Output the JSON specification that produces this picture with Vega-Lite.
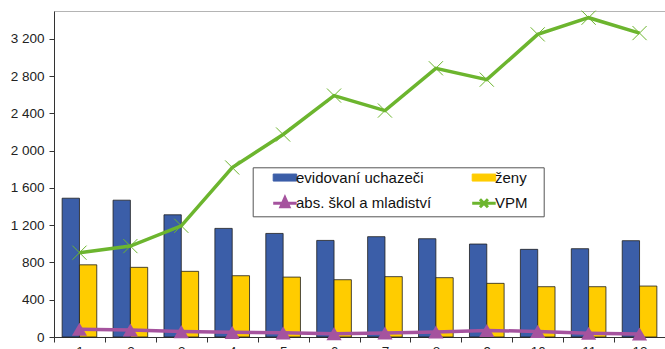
{
  "$schema": "https://vega.github.io/schema/vega-lite/v6.json",
  "autosize": "none",
  "width": 611,
  "height": 326,
  "padding": {"left": 54, "top": 11, "right": 0, "bottom": 12},
  "background": "white",
  "config": {
    "font": "Liberation Sans",
    "view": {"stroke": "#b4b4b4", "strokeWidth": 1}
  },
  "data": {"values": [
    {"m": 1, "s": "evidovaní uchazeči", "v": 1490},
    {"m": 2, "s": "evidovaní uchazeči", "v": 1469},
    {"m": 3, "s": "evidovaní uchazeči", "v": 1312},
    {"m": 4, "s": "evidovaní uchazeči", "v": 1166},
    {"m": 5, "s": "evidovaní uchazeči", "v": 1112},
    {"m": 6, "s": "evidovaní uchazeči", "v": 1037},
    {"m": 7, "s": "evidovaní uchazeči", "v": 1077},
    {"m": 8, "s": "evidovaní uchazeči", "v": 1055},
    {"m": 9, "s": "evidovaní uchazeči", "v": 998},
    {"m": 10, "s": "evidovaní uchazeči", "v": 941},
    {"m": 11, "s": "evidovaní uchazeči", "v": 948},
    {"m": 12, "s": "evidovaní uchazeči", "v": 1034},
    {"m": 1, "s": "ženy", "v": 775},
    {"m": 2, "s": "ženy", "v": 748},
    {"m": 3, "s": "ženy", "v": 705},
    {"m": 4, "s": "ženy", "v": 658},
    {"m": 5, "s": "ženy", "v": 643},
    {"m": 6, "s": "ženy", "v": 615},
    {"m": 7, "s": "ženy", "v": 648},
    {"m": 8, "s": "ženy", "v": 637},
    {"m": 9, "s": "ženy", "v": 576},
    {"m": 10, "s": "ženy", "v": 540},
    {"m": 11, "s": "ženy", "v": 540},
    {"m": 12, "s": "ženy", "v": 547},
    {"m": 1, "s": "abs. škol a mladiství", "v": 83},
    {"m": 2, "s": "abs. škol a mladiství", "v": 75},
    {"m": 3, "s": "abs. škol a mladiství", "v": 58},
    {"m": 4, "s": "abs. škol a mladiství", "v": 50},
    {"m": 5, "s": "abs. škol a mladiství", "v": 45},
    {"m": 6, "s": "abs. škol a mladiství", "v": 36},
    {"m": 7, "s": "abs. škol a mladiství", "v": 43},
    {"m": 8, "s": "abs. škol a mladiství", "v": 54},
    {"m": 9, "s": "abs. škol a mladiství", "v": 70},
    {"m": 10, "s": "abs. škol a mladiství", "v": 60},
    {"m": 11, "s": "abs. škol a mladiství", "v": 40},
    {"m": 12, "s": "abs. škol a mladiství", "v": 32},
    {"m": 1, "s": "VPM", "v": 905},
    {"m": 2, "s": "VPM", "v": 976},
    {"m": 3, "s": "VPM", "v": 1194},
    {"m": 4, "s": "VPM", "v": 1820},
    {"m": 5, "s": "VPM", "v": 2174},
    {"m": 6, "s": "VPM", "v": 2592},
    {"m": 7, "s": "VPM", "v": 2431},
    {"m": 8, "s": "VPM", "v": 2885},
    {"m": 9, "s": "VPM", "v": 2763},
    {"m": 10, "s": "VPM", "v": 3249},
    {"m": 11, "s": "VPM", "v": 3428},
    {"m": 12, "s": "VPM", "v": 3263}
  ]},
  "encoding": {
    "x": {
      "field": "m", "type": "ordinal",
      "scale": {"paddingInner": 0, "paddingOuter": 0},
      "axis": {
        "title": null, "labelAngle": 0, "tickBand": "extent",
        "domainColor": "#333", "tickColor": "#333", "tickSize": 5,
        "labelFontSize": 13.5, "labelColor": "#222", "labelPadding": 2
      }
    },
    "y": {
      "field": "v", "type": "quantitative",
      "scale": {"domain": [0, 3500], "nice": false},
      "axis": {
        "title": null, "grid": false,
        "values": [0, 400, 800, 1200, 1600, 2000, 2400, 2800, 3200],
        "labelExpr": "replace(format(datum.value, ',d'), ',', ' ')",
        "domainColor": "#333", "tickColor": "#333", "tickSize": 5,
        "labelFontSize": 13.5, "labelColor": "#222", "labelPadding": 5
      }
    },
    "color": {
      "field": "s", "type": "nominal",
      "scale": {
        "domain": ["evidovaní uchazeči", "abs. škol a mladiství", "ženy", "VPM"],
        "range": ["#3b5ea8", "#a5539e", "#ffcc00", "#6cb52e"]
      },
      "legend": {
        "title": "\u00a0", "titleOrient": "right", "titlePadding": 14, "titleFontSize": 15,
        "orient": "none", "legendX": 198.7, "legendY": 156.3,
        "columns": 2, "columnPadding": 23, "rowPadding": 6,
        "padding": 2.5, "strokeColor": "#555", "fillColor": "white",
        "symbolSize": 100, "labelFontSize": 15, "labelColor": "#111",
        "labelOffset": 25.8, "symbolOpacity": 1,
        "encode": {
          "symbols": {
            "update": {
              "shape": {"signal": "datum.value === 'abs. škol a mladiství' ? 'M2.1,0H6.8M4.45,-1.1L5.25,0.7L3.65,0.7Z' : datum.value === 'VPM' ? 'M2.1,0H6.8M3.65,-0.8L5.25,0.8M3.65,0.8L5.25,-0.8' : 'M2.1,-0.7H6.8V0.7H2.1Z'"},
              "stroke": {"signal": "datum.value === 'abs. škol a mladiství' ? '#a5539e' : datum.value === 'VPM' ? '#6cb52e' : '#222'"},
              "strokeWidth": {"signal": "datum.value === 'abs. škol a mladiství' || datum.value === 'VPM' ? 3 : 1"},
              "fill": {"signal": "datum.value === 'VPM' ? 'transparent' : scale('color', datum.value)"}
            }
          }
        }
      }
    }
  },
  "layer": [
    {
      "transform": [{"filter": "datum.s === 'evidovaní uchazeči' || datum.s === 'ženy'"}],
      "mark": {"type": "bar", "stroke": "#1e1e1e", "strokeWidth": 0.8},
      "encoding": {
        "xOffset": {"field": "s", "type": "nominal",
          "scale": {"domain": ["evidovaní uchazeči", "ženy"], "paddingInner": 0, "paddingOuter": 0.47}}
      }
    },
    {
      "transform": [{"filter": "datum.s === 'abs. škol a mladiství'"}],
      "mark": {"type": "line", "strokeWidth": 3.5},
      "encoding": {}
    },
    {
      "transform": [{"filter": "datum.s === 'abs. škol a mladiství'"}],
      "mark": {"type": "point", "shape": "triangle-up", "filled": true, "size": 230, "opacity": 1},
      "encoding": {"color": {"value": "#a5539e"}}
    },
    {
      "transform": [{"filter": "datum.s === 'VPM'"}],
      "mark": {"type": "line", "strokeWidth": 3.5},
      "encoding": {}
    },
    {
      "transform": [{"filter": "datum.s === 'VPM'"}],
      "mark": {"type": "point", "shape": "M-1,-1L1,1M-1,1L1,-1", "filled": false, "size": 200, "strokeWidth": 1, "opacity": 1},
      "encoding": {"color": {"value": "#6cb52e"}}
    }
  ]
}
